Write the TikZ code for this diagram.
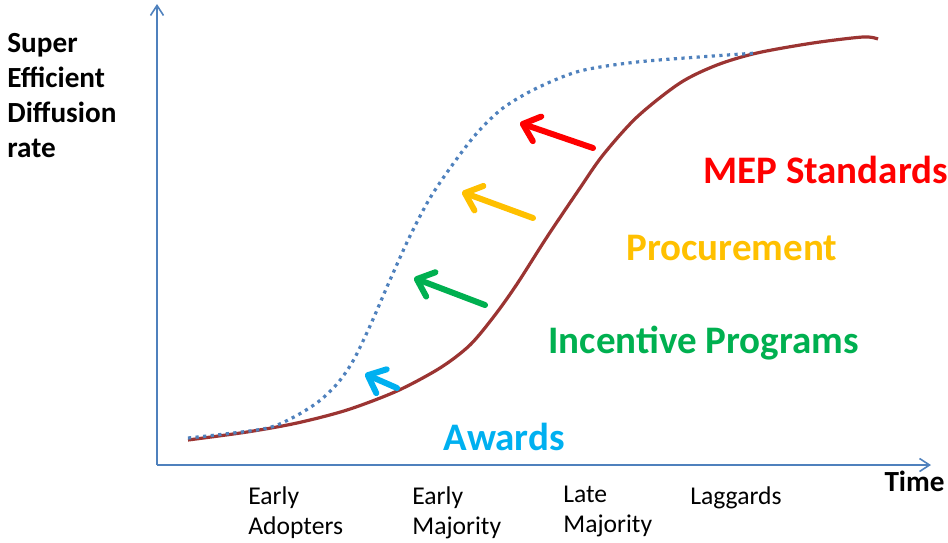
\documentclass[tikz,border=0pt]{standalone}
\usepackage{fontspec}
\setmainfont{Carlito}
\usetikzlibrary{arrows.meta}
\definecolor{axisblue}{RGB}{79,129,189}
\definecolor{curvered}{RGB}{155,52,50}
\definecolor{mepred}{RGB}{255,0,0}
\definecolor{procorange}{RGB}{255,192,0}
\definecolor{incgreen}{RGB}{0,176,80}
\definecolor{awardblue}{RGB}{0,176,240}

\begin{document}
\begin{tikzpicture}[x=0.5pt, y=-0.5pt]
\useasboundingbox (0,0) rectangle (948,542);
%styles
\tikzstyle{axis}=[axisblue, line width=0.8pt, -{Straight Barb[length=5pt,width=6.5pt]}]
\tikzstyle{push}=[line width=3pt, line cap=round, -{Straight Barb[length=7.5pt,width=13pt,round]}]
\tikzstyle{stage}=[rectangle, align=left, inner sep=0pt, font=\fontsize{12.8}{15}\selectfont]
\tikzstyle{lever}=[rectangle, inner sep=0pt, font=\fontsize{19.5}{22}\selectfont\bfseries]
\tikzstyle{axislabel}=[rectangle, align=left, inner sep=0pt, font=\fontsize{14.6}{17.5}\selectfont\bfseries]
\tikzstyle{dots}=[axisblue, line width=1.6pt, dash pattern=on 1.6pt off 2.2pt]

%axes
\coordinate (o) at (157,465);
\coordinate (ytop) at (157,4);
\coordinate (xend) at (931,465);
\draw[axis] (o) -- (ytop);
\draw[axis] (o) -- (xend);

\node[axislabel, anchor=north west] (rate) at (7,33) {Super\\Efficient\\Diffusion\\rate};
\node[axislabel, anchor=north east] (time) at (945,471) {Time};

%adopter groups
\node[stage, anchor=north west] (adopt) at (248,486) {Early\\Adopters};
\node[stage, anchor=north west] (early) at (412,486) {Early\\Majority};
\node[stage, anchor=north west] (late) at (563,486) {Late\\Majority};
\node[stage, anchor=north west] (lag) at (690,486) {Laggards};

%normal diffusion
\draw[curvered, line width=1.6pt] plot[smooth, tension=0.5] coordinates {
  (188,440) (247,432) (297,423) (347,410) (397,391) (440,368) (470,345)
  (495,315) (517,284) (547,237) (580,188) (603,155) (637,117) (680,83)
  (717,65) (757,53) (813,43) (863,37) (878,39)};
%accelerated diffusion
\draw[dots] plot[smooth, tension=0.5] coordinates {
  (188,438) (263,429) (292,418) (318,402) (337,384) (353,361) (370,326)
  (390,280) (410,236) (430,198) (453,164) (477,133) (503,108) (537,88)
  (580,71) (637,62) (713,56) (757,53)};

%programs
\coordinate (mepA) at (593,148);
\coordinate (mepB) at (520,123);
\coordinate (procA) at (533,218);
\coordinate (procB) at (462,192);
\coordinate (incA) at (485,305);
\coordinate (incB) at (414,278);
\coordinate (awdA) at (397,388);
\coordinate (awdB) at (365,374);
\draw[push, mepred] (mepA) -- (mepB);
\draw[push, procorange] (procA) -- (procB);
\draw[push, incgreen] (incA) -- (incB);
\draw[push, awardblue] (awdA) -- (awdB);

\node[lever, text=mepred, anchor=west] (mep) at (703,170) {MEP Standards};
\node[lever, text=procorange, anchor=west] (proc) at (626,248) {Procurement};
\node[lever, text=incgreen, anchor=west] (inc) at (548,343) {Incentive Programs};
\node[lever, text=awardblue, anchor=west] (awd) at (443,437) {Awards};

\end{tikzpicture}
\end{document}
